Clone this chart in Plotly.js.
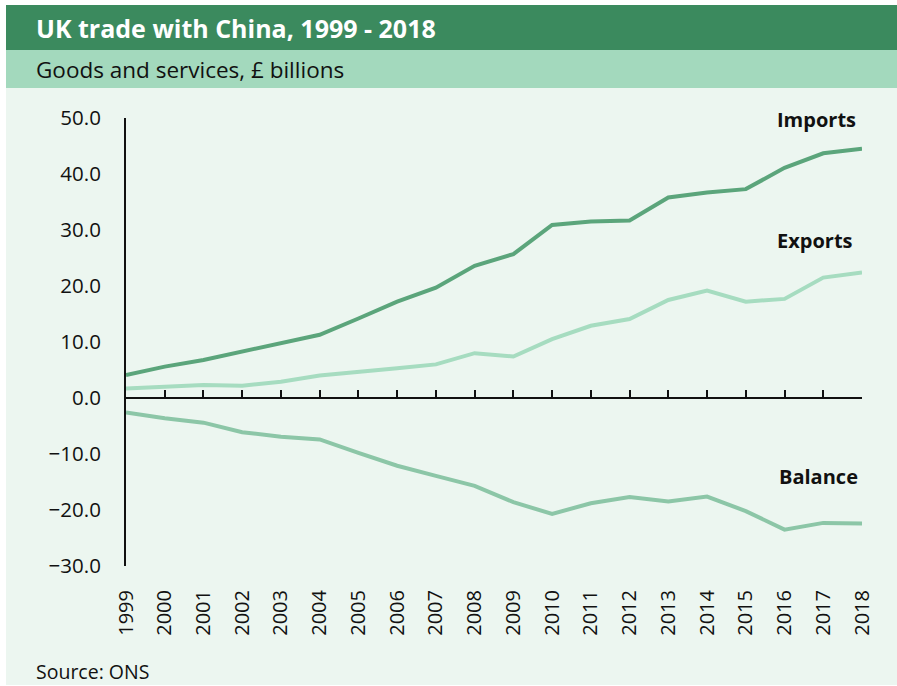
<!DOCTYPE html>
<html>
<head>
<meta charset="utf-8">
<script src="https://cdn.plot.ly/plotly-3.0.1.min.js"></script>
<style>
  html, body { margin: 0; padding: 0; background: #ffffff; }
  #chart { width: 897px; height: 686px; }
</style>
</head>
<body>
<div id="chart"></div>
<script>
// ---- data ----
const years = [1999, 2000, 2001, 2002, 2003, 2004, 2005, 2006, 2007, 2008,
               2009, 2010, 2011, 2012, 2013, 2014, 2015, 2016, 2017, 2018];
const yearLabels = years.map(String);
const imports = [4.1, 5.6, 6.8, 8.3, 9.8, 11.3, 14.2, 17.2, 19.7, 23.6,
                 25.7, 30.9, 31.5, 31.7, 35.8, 36.7, 37.3, 41.1, 43.7, 44.5];
const exports = [1.7, 2.0, 2.3, 2.2, 2.9, 4.0, 4.6, 5.3, 6.0, 8.0,
                 7.4, 10.5, 12.9, 14.1, 17.5, 19.2, 17.2, 17.7, 21.5, 22.4];
const balance = [-2.6, -3.6, -4.4, -6.1, -6.9, -7.4, -9.8, -12.1, -13.9, -15.7,
                 -18.6, -20.7, -18.8, -17.7, -18.5, -17.6, -20.2, -23.5, -22.3, -22.4];
const seriesNames = ["Imports", "Exports", "Balance"];
const yTicks = [50, 40, 30, 20, 10, 0, -10, -20, -30];

// ---- layout helpers (pixel -> paper) ----
const W = 897, H = 686;
const M = { l: 126, r: 35, t: 118, b: 120 };
const PW = W - M.l - M.r, PH = H - M.t - M.b;
const px = x => (x - M.l) / PW;
const py = y => (H - M.b - y) / PH;

const FONT = "Open Sans, Noto Sans, DejaVu Sans, sans-serif";
const colImports = "#5ba57b", colExports = "#a6dcc0", colBalance = "#8cc6a7";

const traces = [
  { x: years, y: imports, name: seriesNames[0], type: "scatter", mode: "lines",
    line: { color: colImports, width: 4 }, hoverinfo: "skip" },
  { x: years, y: exports, name: seriesNames[1], type: "scatter", mode: "lines",
    line: { color: colExports, width: 4 }, hoverinfo: "skip" },
  { x: years, y: balance, name: seriesNames[2], type: "scatter", mode: "lines",
    line: { color: colBalance, width: 4 }, hoverinfo: "skip" },
  // carrier for the zero-line axis
  { x: years, y: years.map(() => null), xaxis: "x2", type: "scatter", mode: "lines",
    showlegend: false, hoverinfo: "skip" }
];

const layout = {
  width: W, height: H,
  margin: M,
  paper_bgcolor: "#ffffff",
  plot_bgcolor: "rgba(0,0,0,0)",
  showlegend: false,
  font: { family: FONT, color: "#111111", size: 20 },
  xaxis: {
    range: [1999, 2018], tickvals: years, ticktext: yearLabels, tickangle: -90,
    showline: false, showgrid: false, zeroline: false,
    ticks: "outside", ticklen: 15, tickcolor: "rgba(0,0,0,0)",
    tickfont: { family: FONT, size: 20, color: "#111111" },
    automargin: false, fixedrange: true
  },
  xaxis2: {
    overlaying: "x", anchor: "free", position: 30 / 80,
    range: [1999, 2018], tickvals: years, showticklabels: false,
    showline: true, linecolor: "#111111", linewidth: 2,
    ticks: "inside", ticklen: 7, tickwidth: 2, tickcolor: "#111111",
    showgrid: false, zeroline: false, automargin: false, fixedrange: true
  },
  yaxis: {
    range: [-30, 50], tickvals: yTicks, tickformat: ".1f",
    showline: true, linecolor: "#111111", linewidth: 2,
    ticks: "outside", ticklen: 19, tickcolor: "rgba(0,0,0,0)",
    showgrid: false, zeroline: false,
    tickfont: { family: FONT, size: 20.5, color: "#111111" },
    automargin: false, fixedrange: true
  },
  shapes: [
    { type: "rect", xref: "paper", yref: "paper", layer: "below",
      x0: px(6), x1: px(897), y0: py(88), y1: py(685),
      fillcolor: "#ecf6f0", line: { width: 0 } },
    { type: "rect", xref: "paper", yref: "paper", layer: "below",
      x0: px(6), x1: px(897), y0: py(50), y1: py(88),
      fillcolor: "#a3d9bd", line: { width: 0 } },
    { type: "rect", xref: "paper", yref: "paper", layer: "below",
      x0: px(6), x1: px(897), y0: py(5), y1: py(50),
      fillcolor: "#3b8a5e", line: { width: 0 } }
  ],
  annotations: [
    { text: "<b>UK trade with China, 1999 - 2018</b>", xref: "paper", yref: "paper",
      x: px(34), y: py(28), xanchor: "left", yanchor: "middle", showarrow: false,
      font: { family: FONT, size: 25, color: "#ffffff" } },
    { text: "Goods and services, £ billions", xref: "paper", yref: "paper",
      x: px(34), y: py(70), xanchor: "left", yanchor: "middle", showarrow: false,
      font: { family: FONT, size: 22.5, color: "#111111" } },
    { text: "Source: ONS", xref: "paper", yref: "paper",
      x: px(34), y: py(671), xanchor: "left", yanchor: "middle", showarrow: false,
      font: { family: FONT, size: 19.5, color: "#111111" } },
    { text: "<b>" + seriesNames[0] + "</b>", xref: "paper", yref: "paper",
      x: px(858), y: py(119), xanchor: "right", yanchor: "middle", showarrow: false,
      font: { family: FONT, size: 20, color: "#111111" } },
    { text: "<b>" + seriesNames[1] + "</b>", xref: "paper", yref: "paper",
      x: px(855), y: py(240), xanchor: "right", yanchor: "middle", showarrow: false,
      font: { family: FONT, size: 20, color: "#111111" } },
    { text: "<b>" + seriesNames[2] + "</b>", xref: "paper", yref: "paper",
      x: px(860), y: py(476), xanchor: "right", yanchor: "middle", showarrow: false,
      font: { family: FONT, size: 20, color: "#111111" } }
  ]
};

Plotly.newPlot("chart", traces, layout, { displayModeBar: false, staticPlot: true });
</script>
</body>
</html>
